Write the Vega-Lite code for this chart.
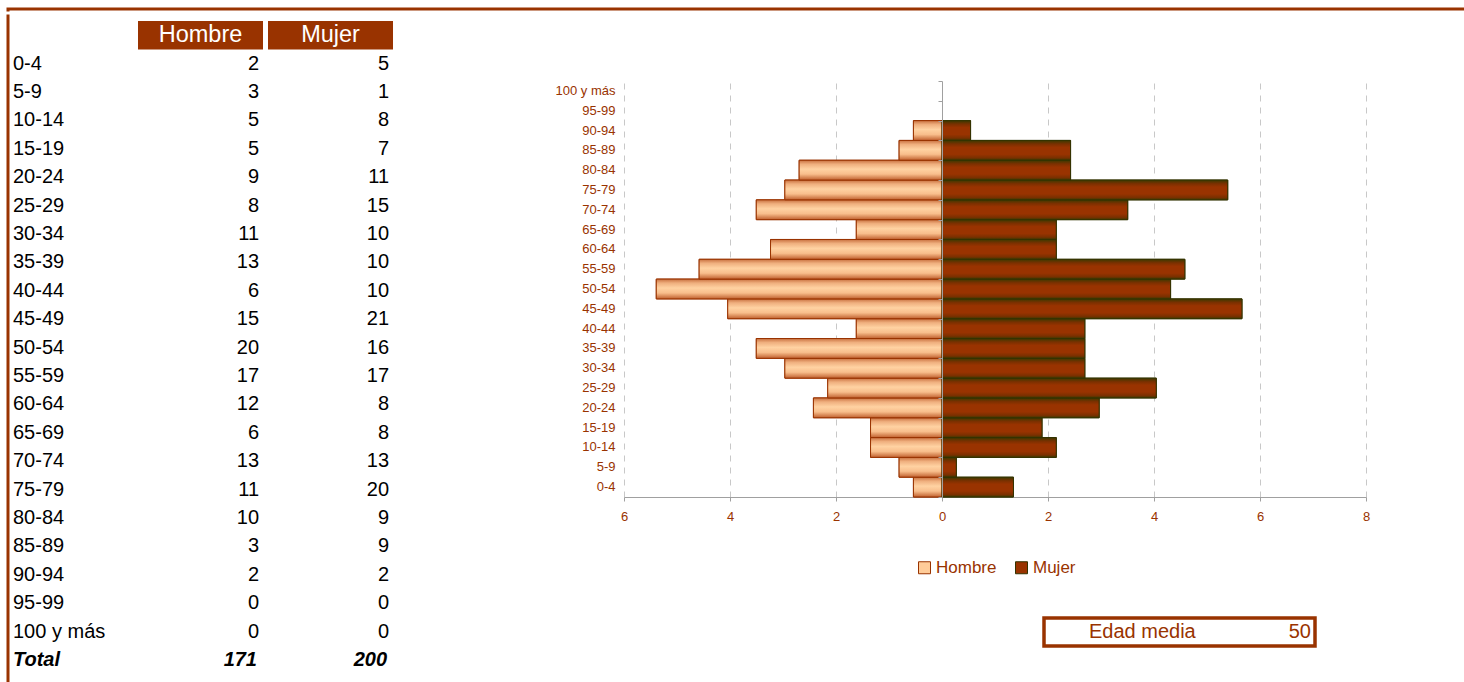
{
  "$schema": "https://vega.github.io/schema/vega-lite/v6.json",
  "padding": {"left": 5, "top": 6, "right": 0, "bottom": 0},
  "background": "white",
  "config": {
    "view": {"stroke": null},
    "font": "Liberation Sans",
    "text": {"font": "Liberation Sans"},
    "legend": {"labelFont": "Liberation Sans"},
    "axis": {"labelFont": "Liberation Sans"}
  },
  "datasets": {
    "piramide": [
      {"edad": "0-4", "sexo": "Hombre", "n": 2, "pct": -0.539},
      {"edad": "5-9", "sexo": "Hombre", "n": 3, "pct": -0.809},
      {"edad": "10-14", "sexo": "Hombre", "n": 5, "pct": -1.348},
      {"edad": "15-19", "sexo": "Hombre", "n": 5, "pct": -1.348},
      {"edad": "20-24", "sexo": "Hombre", "n": 9, "pct": -2.426},
      {"edad": "25-29", "sexo": "Hombre", "n": 8, "pct": -2.156},
      {"edad": "30-34", "sexo": "Hombre", "n": 11, "pct": -2.965},
      {"edad": "35-39", "sexo": "Hombre", "n": 13, "pct": -3.504},
      {"edad": "40-44", "sexo": "Hombre", "n": 6, "pct": -1.617},
      {"edad": "45-49", "sexo": "Hombre", "n": 15, "pct": -4.043},
      {"edad": "50-54", "sexo": "Hombre", "n": 20, "pct": -5.391},
      {"edad": "55-59", "sexo": "Hombre", "n": 17, "pct": -4.582},
      {"edad": "60-64", "sexo": "Hombre", "n": 12, "pct": -3.235},
      {"edad": "65-69", "sexo": "Hombre", "n": 6, "pct": -1.617},
      {"edad": "70-74", "sexo": "Hombre", "n": 13, "pct": -3.504},
      {"edad": "75-79", "sexo": "Hombre", "n": 11, "pct": -2.965},
      {"edad": "80-84", "sexo": "Hombre", "n": 10, "pct": -2.695},
      {"edad": "85-89", "sexo": "Hombre", "n": 3, "pct": -0.809},
      {"edad": "90-94", "sexo": "Hombre", "n": 2, "pct": -0.539},
      {"edad": "95-99", "sexo": "Hombre", "n": 0, "pct": 0},
      {"edad": "100 y más", "sexo": "Hombre", "n": 0, "pct": 0},
      {"edad": "0-4", "sexo": "Mujer", "n": 5, "pct": 1.348},
      {"edad": "5-9", "sexo": "Mujer", "n": 1, "pct": 0.270},
      {"edad": "10-14", "sexo": "Mujer", "n": 8, "pct": 2.156},
      {"edad": "15-19", "sexo": "Mujer", "n": 7, "pct": 1.887},
      {"edad": "20-24", "sexo": "Mujer", "n": 11, "pct": 2.965},
      {"edad": "25-29", "sexo": "Mujer", "n": 15, "pct": 4.043},
      {"edad": "30-34", "sexo": "Mujer", "n": 10, "pct": 2.695},
      {"edad": "35-39", "sexo": "Mujer", "n": 10, "pct": 2.695},
      {"edad": "40-44", "sexo": "Mujer", "n": 10, "pct": 2.695},
      {"edad": "45-49", "sexo": "Mujer", "n": 21, "pct": 5.660},
      {"edad": "50-54", "sexo": "Mujer", "n": 16, "pct": 4.313},
      {"edad": "55-59", "sexo": "Mujer", "n": 17, "pct": 4.582},
      {"edad": "60-64", "sexo": "Mujer", "n": 8, "pct": 2.156},
      {"edad": "65-69", "sexo": "Mujer", "n": 8, "pct": 2.156},
      {"edad": "70-74", "sexo": "Mujer", "n": 13, "pct": 3.504},
      {"edad": "75-79", "sexo": "Mujer", "n": 20, "pct": 5.391},
      {"edad": "80-84", "sexo": "Mujer", "n": 9, "pct": 2.426},
      {"edad": "85-89", "sexo": "Mujer", "n": 9, "pct": 2.426},
      {"edad": "90-94", "sexo": "Mujer", "n": 2, "pct": 0.539},
      {"edad": "95-99", "sexo": "Mujer", "n": 0, "pct": 0},
      {"edad": "100 y más", "sexo": "Mujer", "n": 0, "pct": 0}
    ],
    "totales": [
      {"edad": "Total", "sexo": "Hombre", "n": 171},
      {"edad": "Total", "sexo": "Mujer", "n": 200}
    ],
    "cabecera": [
      {"sexo": "Hombre"},
      {"sexo": "Mujer"}
    ],
    "resumen": [
      {"clave": "Edad media", "valor": 50}
    ]
  },
  "spacing": 0,
  "vconcat": [
    {
      "width": 1460,
      "height": 1,
      "view": {"stroke": "#993300", "strokeWidth": 3, "strokeDash": [1460, 1461, 1], "strokeCap": "square"},
      "data": {"values": []},
      "mark": "text",
      "encoding": {}
    },
    {
      "spacing": 0,
      "hconcat": [
        {
          "width": 544,
          "height": 672,
          "view": {"stroke": "#993300", "strokeWidth": 3, "strokeDash": [0, 1760, 672], "strokeCap": "square"},
          "layer": [
            {
              "data": {"name": "cabecera"},
              "mark": {"type": "rect", "fill": "#993300"},
              "encoding": {
                "x": {"field": "sexo", "type": "nominal", "axis": null,
                  "scale": {"type": "band", "domain": ["Etiqueta", "Hombre", "Mujer"], "paddingInner": 0.0385, "paddingOuter": 0.6115, "align": 0}},
                "y": {"datum": "cabecera", "type": "nominal", "axis": null,
                  "scale": {"type": "band", "domain": ["cabecera", "0-4", "5-9", "10-14", "15-19", "20-24", "25-29", "30-34", "35-39", "40-44", "45-49", "50-54", "55-59", "60-64", "65-69", "70-74", "75-79", "80-84", "85-89", "90-94", "95-99", "100 y más", "Total"], "paddingInner": 0, "paddingOuter": 0.331, "align": 0.27}}
              }
            },
            {
              "data": {"name": "cabecera"},
              "mark": {"type": "text", "color": "white", "fontSize": 23.5},
              "encoding": {
                "x": {"field": "sexo", "type": "nominal"},
                "y": {"datum": "cabecera", "type": "nominal"},
                "text": {"field": "sexo"}
              }
            },
            {
              "data": {"name": "piramide"},
              "transform": [{"filter": "datum.sexo === 'Hombre'"}],
              "mark": {"type": "text", "align": "left", "dx": 5, "fontSize": 20, "color": "black"},
              "encoding": {
                "x": {"datum": "Etiqueta", "type": "nominal", "bandPosition": 0},
                "y": {"field": "edad", "type": "nominal"},
                "text": {"field": "edad"}
              }
            },
            {
              "data": {"name": "piramide"},
              "mark": {"type": "text", "align": "right", "dx": -4, "fontSize": 20, "color": "black"},
              "encoding": {
                "x": {"field": "sexo", "type": "nominal", "bandPosition": 1},
                "y": {"field": "edad", "type": "nominal"},
                "text": {"field": "n"}
              }
            },
            {
              "data": {"name": "totales"},
              "transform": [{"filter": "datum.sexo === 'Hombre'"}],
              "mark": {"type": "text", "align": "left", "dx": 5, "fontSize": 20, "color": "black", "fontWeight": "bold", "fontStyle": "italic"},
              "encoding": {
                "x": {"datum": "Etiqueta", "type": "nominal", "bandPosition": 0},
                "y": {"field": "edad", "type": "nominal"},
                "text": {"field": "edad"}
              }
            },
            {
              "data": {"name": "totales"},
              "mark": {"type": "text", "align": "right", "dx": -6, "fontSize": 20, "color": "black", "fontWeight": "bold", "fontStyle": "italic"},
              "encoding": {
                "x": {"field": "sexo", "type": "nominal", "bandPosition": 1},
                "y": {"field": "edad", "type": "nominal"},
                "text": {"field": "n"}
              }
            }
          ]
        },
        {
          "spacing": 63,
          "vconcat": [
            {
              "width": 400,
              "height": 1,
              "view": {"fill": "white", "stroke": null},
              "data": {"values": []},
              "mark": "text",
              "encoding": {}
            },
            {
              "spacing": 93,
              "vconcat": [
                {
                  "width": 742,
                  "height": 416,
                  "data": {"name": "piramide"},
                  "transform": [{"filter": "datum.n > 0"}],
                  "resolve": {"axis": {"y": "independent"}},
                  "layer": [
                    {
                      "mark": {"type": "bar", "strokeWidth": 1},
                      "encoding": {
                        "x": {"field": "pct", "type": "quantitative",
                          "scale": {"domain": [-6, 8], "nice": false},
                          "axis": {"values": [-6, -4, -2, 0, 2, 4, 6, 8], "labelExpr": "abs(datum.value)", "title": null,
                            "grid": true, "gridDash": [6, 6], "gridColor": "#C8C8C8", "gridWidth": 1,
                            "domainColor": "#A0A0A0", "tickColor": "#A0A0A0", "tickSize": 4,
                            "labelColor": "#993300", "labelFontSize": 13, "labelPadding": 9, "labelFlush": false}},
                        "y": {"field": "edad", "type": "nominal",
                          "scale": {"domain": ["100 y más", "95-99", "90-94", "85-89", "80-84", "75-79", "70-74", "65-69", "60-64", "55-59", "50-54", "45-49", "40-44", "35-39", "30-34", "25-29", "20-24", "15-19", "10-14", "5-9", "0-4"], "paddingInner": 0, "paddingOuter": 0},
                          "axis": {"domain": false, "ticks": false, "grid": false, "title": null, "labelPadding": 9, "labelFontSize": 13, "labelColor": "#993300"}},
                        "fill": {"field": "sexo", "type": "nominal",
                          "scale": {"domain": ["Hombre", "Mujer"], "range": ["#FFCC99", "#993300"]},
                          "legend": {"orient": "none", "legendX": 908, "legendY": 550, "direction": "horizontal", "title": null,
                            "symbolType": "square", "symbolSize": 144, "symbolStrokeWidth": 1, "labelFontSize": 17,
                            "labelColor": "#993300", "labelOffset": 3, "columnPadding": 16, "padding": 0}},
                        "stroke": {"field": "sexo", "type": "nominal",
                          "scale": {"domain": ["Hombre", "Mujer"], "range": ["#993300", "#333300"]},
                          "legend": {"orient": "none", "legendX": 908, "legendY": 550, "direction": "horizontal", "title": null,
                            "symbolType": "square", "symbolSize": 144, "symbolStrokeWidth": 1, "labelFontSize": 17,
                            "labelColor": "#993300", "labelOffset": 3, "columnPadding": 16, "padding": 0}}
                      }
                    },
                    {
                      "mark": {"type": "bar", "strokeWidth": 1},
                      "encoding": {
                        "x": {"field": "pct", "type": "quantitative"},
                        "y": {"field": "edad", "type": "nominal",
                          "axis": {"orient": "left", "offset": -318, "labels": false, "domain": true, "domainColor": "#A0A0A0",
                            "ticks": true, "tickColor": "#A0A0A0", "tickSize": 4, "tickBand": "extent", "grid": false, "title": null, "zindex": 1}},
                        "fill": {
                          "condition": {"test": "datum.sexo === 'Hombre'", "value": {"gradient": "linear", "x1": 0, "y1": 0, "x2": 0, "y2": 1,
                            "stops": [{"offset": 0, "color": "#C8703F"}, {"offset": 0.2, "color": "#EFAF7E"}, {"offset": 0.45, "color": "#FFD2A2"}, {"offset": 0.7, "color": "#F8BE8C"}, {"offset": 1, "color": "#C0602E"}]}},
                          "value": {"gradient": "linear", "x1": 0, "y1": 0, "x2": 0, "y2": 1,
                            "stops": [{"offset": 0, "color": "#3C3A00"}, {"offset": 0.18, "color": "#7A3000"}, {"offset": 0.35, "color": "#993300"}, {"offset": 0.7, "color": "#993300"}, {"offset": 0.88, "color": "#7A3000"}, {"offset": 1, "color": "#3C3A00"}]}
                        },
                        "stroke": {"condition": {"test": "datum.sexo === 'Hombre'", "value": "#993300"}, "value": "#333300"}
                      }
                    }
                  ]
                },
                {
                  "spacing": 0,
                  "hconcat": [
                    {
                      "width": 418,
                      "height": 28,
                      "view": {"fill": "white", "stroke": null},
                      "data": {"values": []},
                      "mark": "text",
                      "encoding": {}
                    },
                    {
                      "width": 271,
                      "height": 28,
                      "view": {"stroke": "#993300", "strokeWidth": 3.5, "fill": "white"},
                      "data": {"name": "resumen"},
                      "layer": [
                        {
                          "mark": {"type": "text", "align": "left", "dx": 45, "fontSize": 20, "color": "#993300"},
                          "encoding": {
                            "x": {"datum": "clave", "type": "nominal", "bandPosition": 0, "axis": null,
                              "scale": {"type": "band", "domain": ["clave", "valor"], "paddingInner": 0, "paddingOuter": 0}},
                            "text": {"field": "clave"}
                          }
                        },
                        {
                          "mark": {"type": "text", "align": "right", "dx": -4, "fontSize": 20, "color": "#993300"},
                          "encoding": {
                            "x": {"datum": "valor", "type": "nominal", "bandPosition": 1},
                            "text": {"field": "valor"}
                          }
                        }
                      ]
                    }
                  ]
                }
              ]
            }
          ]
        }
      ]
    }
  ]
}
